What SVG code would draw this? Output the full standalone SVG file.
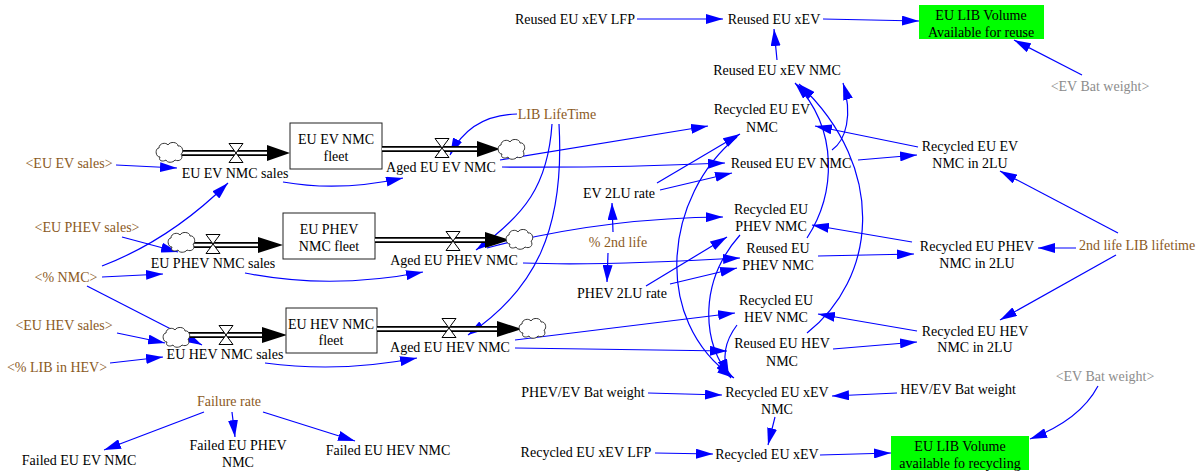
<svg xmlns="http://www.w3.org/2000/svg" width="1204" height="471" viewBox="0 0 1204 471">
<style>
text{font-family:"Liberation Serif","Times New Roman",serif;font-size:14px;text-anchor:middle;fill:#000}
.p{fill:#8b5a1e}
.g{fill:#8c8c8c}
.c{fill:none;stroke:#0000ff;stroke-width:1.2;marker-end:url(#a)}
.box{fill:#fff;stroke:#222;stroke-width:1}
.gb{fill:#00ff00;stroke:none}
.pipeo{stroke:#000;stroke-width:6;fill:none}
.pipei{stroke:#fff;stroke-width:2.4;fill:none}
.cl{fill:#fff;stroke:#333;stroke-width:1}
.vl{fill:#fff;stroke:#000;stroke-width:1}
.ah{fill:#000}
</style>
<defs>
<marker id="a" markerWidth="17" markerHeight="10" refX="17" refY="5" orient="auto" markerUnits="userSpaceOnUse"><path d="M0,0 L17,5 L0,10 Z" fill="#0000ff"/></marker>
<path id="cloud" class="cl" d="M-10,5 C-15,5 -15,-4 -11,-4 C-11,-9 -4,-10 -2,-7 C0,-11 8,-10 8,-6 C13,-7 14,1 11,2 C14,7 9,10 5,8 C3,11 -3,11 -4,8 C-7,10 -12,9 -10,5 Z"/>
<path id="valve" class="vl" d="M-7,-9.5 L7,-9.5 L0,0 Z M-7,9.5 L7,9.5 L0,0 Z"/>
</defs>

<g id="connectors">
<path class="c" d="M637,19 L723,19"/>
<path class="c" d="M823,19 L919,21"/>
<path class="c" d="M1082,75 L1014,40"/>
<path class="c" d="M777,60 L774,29"/>
<path class="c" d="M832,150 C846,140 853,115 843,83"/>
<path class="c" d="M807,238 C835,195 840,130 795,83"/>
<path class="c" d="M807,333 C875,280 890,170 799,84"/>
<path class="c" d="M500,160 L708,126"/>
<path class="c" d="M502,167 Q610,168 725,163"/>
<path class="c" d="M283,182 Q340,192 403,178"/>
<path class="c" d="M517,114 Q470,115 450,155"/>
<path class="c" d="M552,124 C548,185 525,215 476,250"/>
<path class="c" d="M559,124 C565,230 535,290 468,335"/>
<path class="c" d="M657,183 L740,134"/>
<path class="c" d="M660,190 L732,173"/>
<path class="c" d="M613,232 L612,203"/>
<path class="c" d="M608,253 L607,282"/>
<path class="c" d="M487,248 Q600,218 723,217"/>
<path class="c" d="M523,263 Q600,266 740,258"/>
<path class="c" d="M646,286 L727,237"/>
<path class="c" d="M670,284 L737,268"/>
<path class="c" d="M245,273 Q330,290 423,272"/>
<path class="c" d="M515,340 L735,313"/>
<path class="c" d="M515,348 L727,351"/>
<path class="c" d="M265,363 Q340,373 417,358"/>
<path class="c" d="M737,137 C665,195 650,320 734,378"/>
<path class="c" d="M740,235 C700,280 700,340 731,378"/>
<path class="c" d="M737,325 Q718,350 729,376"/>
<path class="c" d="M775,417 L768,445"/>
<path class="c" d="M648,393 L722,395"/>
<path class="c" d="M897,393 L832,396"/>
<path class="c" d="M655,453 L713,454"/>
<path class="c" d="M820,455 L891,453"/>
<path class="c" d="M1098,386 Q1080,420 1030,439"/>
<path class="c" d="M858,160 L917,155"/>
<path class="c" d="M918,147 L815,126"/>
<path class="c" d="M1118,233 L1000,171"/>
<path class="c" d="M1076,248 L1038,248"/>
<path class="c" d="M1116,255 L1000,320"/>
<path class="c" d="M912,242 L812,225"/>
<path class="c" d="M818,256 L914,254"/>
<path class="c" d="M917,331 L818,314"/>
<path class="c" d="M833,349 L917,342"/>
<path class="c" d="M116,165 L177,168"/>
<path class="c" d="M122,237 L178,252"/>
<path class="c" d="M102,277 L163,274"/>
<path class="c" d="M102,266 Q170,240 228,183"/>
<path class="c" d="M87,286 L202,345"/>
<path class="c" d="M117,333 L165,343"/>
<path class="c" d="M110,363 L163,357"/>
<path class="c" d="M204,412 L104,450"/>
<path class="c" d="M232,412 L235,437"/>
<path class="c" d="M263,412 L355,441"/>
</g>

<g id="flow-ev-sales">
<path class="pipeo" d="M182,153 L268,153"/><path class="pipei" d="M182,153 L268,153"/>
<polygon class="ah" points="267,145 290,153 267,161"/>
<use href="#cloud" x="170" y="152"/>
<use href="#valve" x="236" y="153"/>
<text x="235" y="178">EU EV NMC sales</text>
</g>
<g id="stock-ev">
<rect class="box" x="290" y="123" width="92" height="46"/>
<text x="336" y="144">EU EV NMC</text>
<text x="336" y="161">fleet</text>
</g>
<g id="flow-ev-aged">
<path class="pipeo" d="M382,149 L478,149"/><path class="pipei" d="M382,149 L478,149"/>
<polygon class="ah" points="477,141 500,149 477,157"/>
<use href="#cloud" x="512" y="149"/>
<use href="#valve" x="442" y="148"/>
<text x="441" y="172">Aged EU EV NMC</text>
</g>

<g id="flow-phev-sales">
<path class="pipeo" d="M194,245 L259,245"/><path class="pipei" d="M194,245 L259,245"/>
<polygon class="ah" points="258,237 283,245 258,253"/>
<use href="#cloud" x="182" y="242"/>
<use href="#valve" x="213" y="244"/>
<text x="213" y="268">EU PHEV NMC sales</text>
</g>
<g id="stock-phev">
<rect class="box" x="283" y="213" width="92" height="46"/>
<text x="329" y="234">EU PHEV</text>
<text x="329" y="251">NMC fleet</text>
</g>
<g id="flow-phev-aged">
<path class="pipeo" d="M375,240 L486,240"/><path class="pipei" d="M375,240 L486,240"/>
<polygon class="ah" points="485,232 510,240 485,248"/>
<use href="#cloud" x="520" y="239"/>
<use href="#valve" x="453" y="241"/>
<text x="454" y="265">Aged EU PHEV NMC</text>
</g>

<g id="flow-hev-sales">
<path class="pipeo" d="M188,335 L263,335"/><path class="pipei" d="M188,335 L263,335"/>
<polygon class="ah" points="262,327 287,335 262,343"/>
<use href="#cloud" x="177" y="337"/>
<use href="#valve" x="226" y="335"/>
<text x="225" y="359">EU HEV NMC sales</text>
</g>
<g id="stock-hev">
<rect class="box" x="286" y="308" width="91" height="45"/>
<text x="331" y="329">EU HEV NMC</text>
<text x="331" y="345">fleet</text>
</g>
<g id="flow-hev-aged">
<path class="pipeo" d="M377,329 L498,329"/><path class="pipei" d="M377,329 L498,329"/>
<polygon class="ah" points="497,321 522,329 497,337"/>
<use href="#cloud" x="533" y="328"/>
<use href="#valve" x="449" y="328"/>
<text x="450" y="352">Aged EU HEV NMC</text>
</g>

<g id="n-reused-lfp"><text x="575" y="24">Reused EU xEV LFP</text></g>
<g id="n-reused-xev"><text x="774" y="24">Reused EU xEV</text></g>
<g id="n-vol-reuse">
<rect class="gb" x="919" y="5" width="125" height="34"/>
<text x="981" y="20">EU LIB Volume</text>
<text x="981" y="37">Available for reuse</text>
</g>
<g id="n-evbat-top"><text class="g" x="1100" y="91">&lt;EV Bat weight&gt;</text></g>
<g id="n-reused-xev-nmc"><text x="777" y="75">Reused EU xEV NMC</text></g>
<g id="n-lib-lifetime"><text class="p" x="557" y="119">LIB LifeTime</text></g>
<g id="n-recycled-ev"><text x="762" y="114">Recycled EU EV</text><text x="762" y="132">NMC</text></g>
<g id="n-reused-ev"><text x="791" y="168">Reused EU EV NMC</text></g>
<g id="n-recycled-ev-2lu"><text x="970" y="151">Recycled EU EV</text><text x="970" y="168">NMC in 2LU</text></g>
<g id="n-ev-2lu-rate"><text x="619" y="198">EV 2LU rate</text></g>
<g id="n-2nd-life"><text class="p" x="618" y="247">% 2nd life</text></g>
<g id="n-phev-2lu-rate"><text x="622" y="298">PHEV 2LU rate</text></g>
<g id="n-recycled-phev"><text x="771" y="214">Recycled EU</text><text x="771" y="231">PHEV NMC</text></g>
<g id="n-reused-phev"><text x="778" y="253">Reused EU</text><text x="778" y="270">PHEV NMC</text></g>
<g id="n-recycled-phev-2lu"><text x="977" y="251">Recycled EU PHEV</text><text x="977" y="268">NMC in 2LU</text></g>
<g id="n-2nd-life-lifetime"><text class="p" x="1137" y="250">2nd life LIB lifetime</text></g>
<g id="n-recycled-hev"><text x="776" y="305">Recycled EU</text><text x="776" y="322">HEV NMC</text></g>
<g id="n-reused-hev"><text x="782" y="348">Reused EU HEV</text><text x="782" y="366">NMC</text></g>
<g id="n-recycled-hev-2lu"><text x="975" y="336">Recycled EU HEV</text><text x="975" y="352">NMC in 2LU</text></g>
<g id="n-recycled-xev-nmc"><text x="777" y="397">Recycled EU xEV</text><text x="777" y="414">NMC</text></g>
<g id="n-phev-ev-bat"><text x="583" y="397">PHEV/EV Bat weight</text></g>
<g id="n-hev-ev-bat"><text x="958" y="394">HEV/EV Bat weight</text></g>
<g id="n-evbat-bottom"><text class="g" x="1105" y="381">&lt;EV Bat weight&gt;</text></g>
<g id="n-recycled-lfp"><text x="586" y="457">Recycled EU xEV LFP</text></g>
<g id="n-recycled-xev"><text x="767" y="459">Recycled EU xEV</text></g>
<g id="n-vol-recycling">
<rect class="gb" x="891" y="436" width="138" height="34"/>
<text x="960" y="451">EU LIB Volume</text>
<text x="960" y="468">available fo recycling</text>
</g>
<g id="n-eu-ev-sales"><text class="p" x="69" y="168">&lt;EU EV sales&gt;</text></g>
<g id="n-eu-phev-sales"><text class="p" x="87" y="232">&lt;EU PHEV sales&gt;</text></g>
<g id="n-pct-nmc"><text class="p" x="66" y="282">&lt;% NMC&gt;</text></g>
<g id="n-eu-hev-sales"><text class="p" x="64" y="330">&lt;EU HEV sales&gt;</text></g>
<g id="n-pct-lib-hev"><text class="p" x="57" y="372">&lt;% LIB in HEV&gt;</text></g>
<g id="n-failure-rate"><text class="p" x="229" y="406">Failure rate</text></g>
<g id="n-failed-ev"><text x="79" y="465">Failed EU EV NMC</text></g>
<g id="n-failed-phev"><text x="238" y="450">Failed EU PHEV</text><text x="238" y="467">NMC</text></g>
<g id="n-failed-hev"><text x="388" y="455">Failed EU HEV NMC</text></g>
</svg>
